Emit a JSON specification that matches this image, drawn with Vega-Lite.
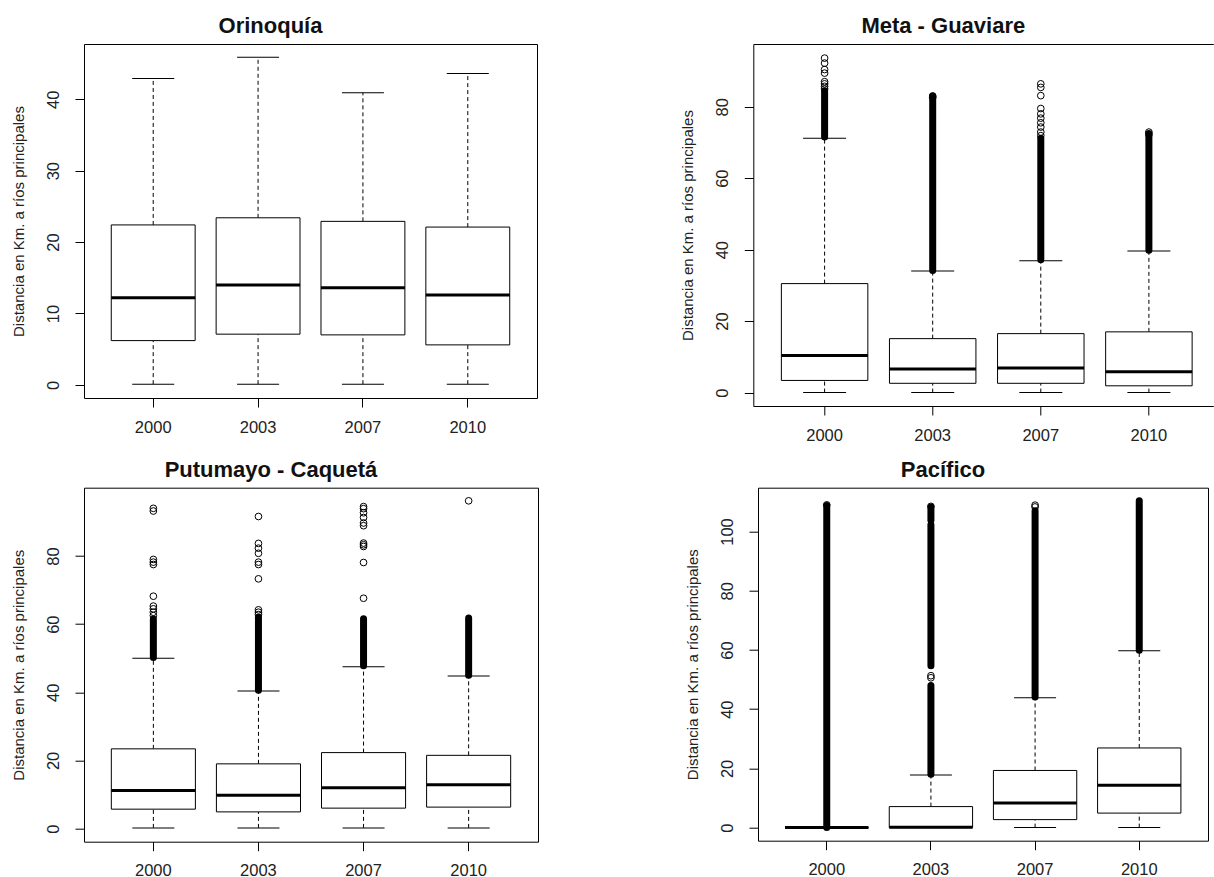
{
  "$schema": "https://vega.github.io/schema/vega-lite/v6.json",
  "padding": {"left": 11, "top": 14, "right": 0, "bottom": 0},
  "background": "white",
  "config": {
    "view": {"stroke": "black", "strokeWidth": 1},
    "tick": {"opacity": 1},
    "axis": {"domain": false, "grid": false, "tickColor": "black", "tickSize": 9, "tickWidth": 1,
      "labelFont": "Liberation Sans", "labelFontSize": 16.5, "labelColor": "#222",
      "titleFont": "Liberation Sans", "titleFontSize": 15, "titleFontWeight": "normal", "titleColor": "#222"},
    "axisX": {"labelAngle": 0, "labelPadding": 12},
    "axisY": {"labelAngle": -90, "labelAlign": "center", "labelBaseline": "alphabetic", "labelPadding": 17,
      "minExtent": 42, "maxExtent": 42, "titlePadding": 15.5},
    "title": {"font": "Liberation Sans", "fontSize": 22, "fontWeight": "bold", "color": "#111",
      "anchor": "middle", "dx": -40, "frame": "group", "baseline": "alphabetic", "offset": 6}
  },
  "datasets": {
    "boxes": [
      {"region": "Orinoquía", "year": "2000", "min": 0.1, "q1": 6.2, "median": 12.2, "q3": 22.4, "max": 42.9},
      {"region": "Orinoquía", "year": "2003", "min": 0.1, "q1": 7.1, "median": 14.0, "q3": 23.4, "max": 45.9},
      {"region": "Orinoquía", "year": "2007", "min": 0.1, "q1": 7.0, "median": 13.6, "q3": 22.9, "max": 40.9},
      {"region": "Orinoquía", "year": "2010", "min": 0.1, "q1": 5.6, "median": 12.6, "q3": 22.1, "max": 43.6},
      {"region": "Meta - Guaviare", "year": "2000", "min": 0, "q1": 3.4, "median": 10.4, "q3": 30.5, "max": 71.2},
      {"region": "Meta - Guaviare", "year": "2003", "min": 0, "q1": 2.6, "median": 6.6, "q3": 15.1, "max": 34.0},
      {"region": "Meta - Guaviare", "year": "2007", "min": 0, "q1": 2.6, "median": 6.9, "q3": 16.5, "max": 36.9},
      {"region": "Meta - Guaviare", "year": "2010", "min": 0, "q1": 1.9, "median": 5.8, "q3": 17.0, "max": 39.6},
      {"region": "Putumayo - Caquetá", "year": "2000", "min": 0.2, "q1": 5.7, "median": 11.2, "q3": 23.4, "max": 50.0},
      {"region": "Putumayo - Caquetá", "year": "2003", "min": 0.2, "q1": 4.9, "median": 9.8, "q3": 19.0, "max": 40.4},
      {"region": "Putumayo - Caquetá", "year": "2007", "min": 0.2, "q1": 6.0, "median": 12.0, "q3": 22.3, "max": 47.5},
      {"region": "Putumayo - Caquetá", "year": "2010", "min": 0.2, "q1": 6.3, "median": 12.9, "q3": 21.5, "max": 44.8},
      {"region": "Pacífico", "year": "2000", "min": 0, "q1": 0, "median": 0, "q3": 0, "max": 0},
      {"region": "Pacífico", "year": "2003", "min": 0, "q1": 0, "median": 0.1, "q3": 7.1, "max": 17.8},
      {"region": "Pacífico", "year": "2007", "min": 0, "q1": 2.7, "median": 8.3, "q3": 19.3, "max": 43.9},
      {"region": "Pacífico", "year": "2010", "min": 0, "q1": 4.9, "median": 14.3, "q3": 26.9, "max": 59.7}
    ],
    "bands": [
      {"region": "Meta - Guaviare", "year": "2000", "lo": 71.5, "hi": 84.5},
      {"region": "Meta - Guaviare", "year": "2003", "lo": 34.2, "hi": 83.0},
      {"region": "Meta - Guaviare", "year": "2007", "lo": 37.2, "hi": 71.2},
      {"region": "Meta - Guaviare", "year": "2010", "lo": 39.8, "hi": 72.5},
      {"region": "Putumayo - Caquetá", "year": "2000", "lo": 50.2, "hi": 61.5},
      {"region": "Putumayo - Caquetá", "year": "2003", "lo": 40.6, "hi": 62.0},
      {"region": "Putumayo - Caquetá", "year": "2007", "lo": 47.8, "hi": 61.6},
      {"region": "Putumayo - Caquetá", "year": "2010", "lo": 45.0, "hi": 61.8},
      {"region": "Pacífico", "year": "2000", "lo": 0, "hi": 108.8},
      {"region": "Pacífico", "year": "2003", "lo": 18.0, "hi": 48.0},
      {"region": "Pacífico", "year": "2003", "lo": 54.7, "hi": 102.3},
      {"region": "Pacífico", "year": "2003", "lo": 103.8, "hi": 108.3},
      {"region": "Pacífico", "year": "2007", "lo": 44.1, "hi": 107.0},
      {"region": "Pacífico", "year": "2010", "lo": 59.9, "hi": 110.4}
    ],
    "points": [
      {"region": "Meta - Guaviare", "year": "2000", "value": 85.0},
      {"region": "Meta - Guaviare", "year": "2000", "value": 85.7},
      {"region": "Meta - Guaviare", "year": "2000", "value": 86.4},
      {"region": "Meta - Guaviare", "year": "2000", "value": 87.0},
      {"region": "Meta - Guaviare", "year": "2000", "value": 89.4},
      {"region": "Meta - Guaviare", "year": "2000", "value": 90.4},
      {"region": "Meta - Guaviare", "year": "2000", "value": 92.2},
      {"region": "Meta - Guaviare", "year": "2000", "value": 93.6},
      {"region": "Meta - Guaviare", "year": "2003", "value": 82.6},
      {"region": "Meta - Guaviare", "year": "2003", "value": 83.0},
      {"region": "Meta - Guaviare", "year": "2007", "value": 71.9},
      {"region": "Meta - Guaviare", "year": "2007", "value": 72.9},
      {"region": "Meta - Guaviare", "year": "2007", "value": 74.3},
      {"region": "Meta - Guaviare", "year": "2007", "value": 75.5},
      {"region": "Meta - Guaviare", "year": "2007", "value": 76.8},
      {"region": "Meta - Guaviare", "year": "2007", "value": 78.0},
      {"region": "Meta - Guaviare", "year": "2007", "value": 79.5},
      {"region": "Meta - Guaviare", "year": "2007", "value": 83.1},
      {"region": "Meta - Guaviare", "year": "2007", "value": 85.4},
      {"region": "Meta - Guaviare", "year": "2007", "value": 86.4},
      {"region": "Meta - Guaviare", "year": "2010", "value": 72.2},
      {"region": "Meta - Guaviare", "year": "2010", "value": 72.9},
      {"region": "Putumayo - Caquetá", "year": "2000", "value": 62.5},
      {"region": "Putumayo - Caquetá", "year": "2000", "value": 63.5},
      {"region": "Putumayo - Caquetá", "year": "2000", "value": 64.5},
      {"region": "Putumayo - Caquetá", "year": "2000", "value": 65.3},
      {"region": "Putumayo - Caquetá", "year": "2000", "value": 68.2},
      {"region": "Putumayo - Caquetá", "year": "2000", "value": 77.5},
      {"region": "Putumayo - Caquetá", "year": "2000", "value": 78.2},
      {"region": "Putumayo - Caquetá", "year": "2000", "value": 79.0},
      {"region": "Putumayo - Caquetá", "year": "2000", "value": 93.2},
      {"region": "Putumayo - Caquetá", "year": "2000", "value": 94.0},
      {"region": "Putumayo - Caquetá", "year": "2003", "value": 62.8},
      {"region": "Putumayo - Caquetá", "year": "2003", "value": 63.5},
      {"region": "Putumayo - Caquetá", "year": "2003", "value": 64.2},
      {"region": "Putumayo - Caquetá", "year": "2003", "value": 73.3},
      {"region": "Putumayo - Caquetá", "year": "2003", "value": 77.5},
      {"region": "Putumayo - Caquetá", "year": "2003", "value": 78.2},
      {"region": "Putumayo - Caquetá", "year": "2003", "value": 80.8},
      {"region": "Putumayo - Caquetá", "year": "2003", "value": 82.3},
      {"region": "Putumayo - Caquetá", "year": "2003", "value": 83.7},
      {"region": "Putumayo - Caquetá", "year": "2003", "value": 91.6},
      {"region": "Putumayo - Caquetá", "year": "2007", "value": 67.6},
      {"region": "Putumayo - Caquetá", "year": "2007", "value": 78.1},
      {"region": "Putumayo - Caquetá", "year": "2007", "value": 82.8},
      {"region": "Putumayo - Caquetá", "year": "2007", "value": 83.3},
      {"region": "Putumayo - Caquetá", "year": "2007", "value": 83.8},
      {"region": "Putumayo - Caquetá", "year": "2007", "value": 88.9},
      {"region": "Putumayo - Caquetá", "year": "2007", "value": 89.7},
      {"region": "Putumayo - Caquetá", "year": "2007", "value": 91.3},
      {"region": "Putumayo - Caquetá", "year": "2007", "value": 92.7},
      {"region": "Putumayo - Caquetá", "year": "2007", "value": 93.9},
      {"region": "Putumayo - Caquetá", "year": "2007", "value": 94.5},
      {"region": "Putumayo - Caquetá", "year": "2010", "value": 96.2},
      {"region": "Pacífico", "year": "2000", "value": 109.0},
      {"region": "Pacífico", "year": "2003", "value": 50.6},
      {"region": "Pacífico", "year": "2003", "value": 51.3},
      {"region": "Pacífico", "year": "2003", "value": 108.5},
      {"region": "Pacífico", "year": "2007", "value": 108.3},
      {"region": "Pacífico", "year": "2007", "value": 108.9}
    ]
  },
  "spacing": 13.7,
  "vconcat": [
    {
      "bounds": "flush",
      "spacing": 216.3,
      "hconcat": [
        {
          "width": 453, "height": 354,
          "title": "Orinoquía",
          "layer": [
            {"data": {"name": "boxes"}, "transform": [{"filter": {"field": "region", "equal": "Orinoquía"}}],
             "mark": {"type": "rule", "strokeDash": [4, 3], "color": "black"},
             "encoding": {
               "x": {"field": "year", "type": "nominal", "title": null, "scale": {"domain": ["2000", "2003", "2007", "2010"], "paddingInner": 0.2, "paddingOuter": 0.26}},
               "y": {"field": "min", "type": "quantitative", "title": "Distancia en Km. a ríos principales", "scale": {"domain": [-1.84, 47.74], "nice": false, "zero": false}, "axis": {"values": [0, 10, 20, 30, 40]}},
               "y2": {"field": "q1"}}},
            {"data": {"name": "boxes"}, "transform": [{"filter": {"field": "region", "equal": "Orinoquía"}}],
             "mark": {"type": "rule", "strokeDash": [4, 3], "color": "black"},
             "encoding": {
               "x": {"field": "year", "type": "nominal", "title": null},
               "y": {"field": "q3", "type": "quantitative", "title": "Distancia en Km. a ríos principales"},
               "y2": {"field": "max"}}},
            {"data": {"name": "boxes"}, "transform": [{"filter": {"field": "region", "equal": "Orinoquía"}}],
             "mark": {"type": "tick", "size": 42, "thickness": 1, "color": "black"},
             "encoding": {
               "x": {"field": "year", "type": "nominal", "title": null},
               "y": {"field": "min", "type": "quantitative", "title": "Distancia en Km. a ríos principales"}}},
            {"data": {"name": "boxes"}, "transform": [{"filter": {"field": "region", "equal": "Orinoquía"}}],
             "mark": {"type": "tick", "size": 42, "thickness": 1, "color": "black"},
             "encoding": {
               "x": {"field": "year", "type": "nominal", "title": null},
               "y": {"field": "max", "type": "quantitative", "title": "Distancia en Km. a ríos principales"}}},
            {"data": {"name": "boxes"}, "transform": [{"filter": {"field": "region", "equal": "Orinoquía"}}],
             "mark": {"type": "bar", "fill": "white", "stroke": "black", "strokeWidth": 1},
             "encoding": {
               "x": {"field": "year", "type": "nominal", "title": null},
               "y": {"field": "q1", "type": "quantitative", "title": "Distancia en Km. a ríos principales"},
               "y2": {"field": "q3"}}},
            {"data": {"name": "boxes"}, "transform": [{"filter": {"field": "region", "equal": "Orinoquía"}}],
             "mark": {"type": "tick", "size": 84, "thickness": 3, "color": "black"},
             "encoding": {
               "x": {"field": "year", "type": "nominal", "title": null},
               "y": {"field": "median", "type": "quantitative", "title": "Distancia en Km. a ríos principales"}}}
          ]
        },
        {
          "width": 460, "height": 362,
          "title": "Meta - Guaviare",
          "view": {"stroke": null},
          "resolve": {"axis": {"x": "independent"}},
          "layer": [
            {"data": {"name": "boxes"}, "transform": [{"filter": {"field": "region", "equal": "Meta - Guaviare"}}],
             "mark": {"type": "rule", "strokeDash": [4, 3], "color": "black"},
             "encoding": {
               "x": {"field": "year", "type": "nominal", "title": null, "scale": {"domain": ["2000", "2003", "2007", "2010"], "paddingInner": 0.2, "paddingOuter": 0.2277, "align": 0.57}, "axis": {"domain": true, "domainColor": "black"}},
               "y": {"field": "min", "type": "quantitative", "title": "Distancia en Km. a ríos principales", "scale": {"domain": [-3.75, 97.55], "nice": false, "zero": false}, "axis": {"values": [0, 20, 40, 60, 80], "domain": true, "domainColor": "black"}},
               "y2": {"field": "q1"}}},
            {"data": {"name": "boxes"}, "transform": [{"filter": {"field": "region", "equal": "Meta - Guaviare"}}],
             "mark": {"type": "rule", "strokeDash": [4, 3], "color": "black"},
             "encoding": {
               "x": {"field": "year", "type": "nominal", "title": null, "axis": {"orient": "top", "labels": false, "ticks": false, "domain": true, "domainColor": "black"}},
               "y": {"field": "q3", "type": "quantitative", "title": "Distancia en Km. a ríos principales"},
               "y2": {"field": "max"}}},
            {"data": {"name": "boxes"}, "transform": [{"filter": {"field": "region", "equal": "Meta - Guaviare"}}],
             "mark": {"type": "tick", "size": 43, "thickness": 1, "color": "black"},
             "encoding": {
               "x": {"field": "year", "type": "nominal", "title": null, "axis": null},
               "y": {"field": "min", "type": "quantitative", "title": "Distancia en Km. a ríos principales"}}},
            {"data": {"name": "boxes"}, "transform": [{"filter": {"field": "region", "equal": "Meta - Guaviare"}}],
             "mark": {"type": "tick", "size": 43, "thickness": 1, "color": "black"},
             "encoding": {
               "x": {"field": "year", "type": "nominal", "title": null, "axis": null},
               "y": {"field": "max", "type": "quantitative", "title": "Distancia en Km. a ríos principales"}}},
            {"data": {"name": "bands"}, "transform": [{"filter": {"field": "region", "equal": "Meta - Guaviare"}}],
             "mark": {"type": "rule", "strokeWidth": 7, "strokeCap": "round", "color": "black"},
             "encoding": {
               "x": {"field": "year", "type": "nominal", "title": null, "axis": null},
               "y": {"field": "lo", "type": "quantitative", "title": "Distancia en Km. a ríos principales"},
               "y2": {"field": "hi"}}},
            {"data": {"name": "points"}, "transform": [{"filter": {"field": "region", "equal": "Meta - Guaviare"}}],
             "mark": {"type": "point", "shape": "circle", "size": 45, "filled": false, "color": "black", "strokeWidth": 1, "opacity": 1},
             "encoding": {
               "x": {"field": "year", "type": "nominal", "title": null, "axis": null},
               "y": {"field": "value", "type": "quantitative", "title": "Distancia en Km. a ríos principales"}}},
            {"data": {"name": "boxes"}, "transform": [{"filter": {"field": "region", "equal": "Meta - Guaviare"}}],
             "mark": {"type": "bar", "fill": "white", "stroke": "black", "strokeWidth": 1},
             "encoding": {
               "x": {"field": "year", "type": "nominal", "title": null, "axis": null},
               "y": {"field": "q1", "type": "quantitative", "title": "Distancia en Km. a ríos principales"},
               "y2": {"field": "q3"}}},
            {"data": {"name": "boxes"}, "transform": [{"filter": {"field": "region", "equal": "Meta - Guaviare"}}],
             "mark": {"type": "tick", "size": 86.5, "thickness": 3, "color": "black"},
             "encoding": {
               "x": {"field": "year", "type": "nominal", "title": null, "axis": null},
               "y": {"field": "median", "type": "quantitative", "title": "Distancia en Km. a ríos principales"}}}
          ]
        }
      ]
    },
    {
      "bounds": "flush",
      "spacing": 220,
      "hconcat": [
        {
          "width": 454, "height": 354,
          "title": "Putumayo - Caquetá",
          "layer": [
            {"data": {"name": "boxes"}, "transform": [{"filter": {"field": "region", "equal": "Putumayo - Caquetá"}}],
             "mark": {"type": "rule", "strokeDash": [4, 3], "color": "black"},
             "encoding": {
               "x": {"field": "year", "type": "nominal", "title": null, "scale": {"domain": ["2000", "2003", "2007", "2010"], "paddingInner": 0.2, "paddingOuter": 0.26}},
               "y": {"field": "min", "type": "quantitative", "title": "Distancia en Km. a ríos principales", "scale": {"domain": [-3.85, 100.05], "nice": false, "zero": false}, "axis": {"values": [0, 20, 40, 60, 80]}},
               "y2": {"field": "q1"}}},
            {"data": {"name": "boxes"}, "transform": [{"filter": {"field": "region", "equal": "Putumayo - Caquetá"}}],
             "mark": {"type": "rule", "strokeDash": [4, 3], "color": "black"},
             "encoding": {
               "x": {"field": "year", "type": "nominal", "title": null},
               "y": {"field": "q3", "type": "quantitative", "title": "Distancia en Km. a ríos principales"},
               "y2": {"field": "max"}}},
            {"data": {"name": "boxes"}, "transform": [{"filter": {"field": "region", "equal": "Putumayo - Caquetá"}}],
             "mark": {"type": "tick", "size": 42, "thickness": 1, "color": "black"},
             "encoding": {
               "x": {"field": "year", "type": "nominal", "title": null},
               "y": {"field": "min", "type": "quantitative", "title": "Distancia en Km. a ríos principales"}}},
            {"data": {"name": "boxes"}, "transform": [{"filter": {"field": "region", "equal": "Putumayo - Caquetá"}}],
             "mark": {"type": "tick", "size": 42, "thickness": 1, "color": "black"},
             "encoding": {
               "x": {"field": "year", "type": "nominal", "title": null},
               "y": {"field": "max", "type": "quantitative", "title": "Distancia en Km. a ríos principales"}}},
            {"data": {"name": "bands"}, "transform": [{"filter": {"field": "region", "equal": "Putumayo - Caquetá"}}],
             "mark": {"type": "rule", "strokeWidth": 7, "strokeCap": "round", "color": "black"},
             "encoding": {
               "x": {"field": "year", "type": "nominal", "title": null},
               "y": {"field": "lo", "type": "quantitative", "title": "Distancia en Km. a ríos principales"},
               "y2": {"field": "hi"}}},
            {"data": {"name": "points"}, "transform": [{"filter": {"field": "region", "equal": "Putumayo - Caquetá"}}],
             "mark": {"type": "point", "shape": "circle", "size": 45, "filled": false, "color": "black", "strokeWidth": 1, "opacity": 1},
             "encoding": {
               "x": {"field": "year", "type": "nominal", "title": null},
               "y": {"field": "value", "type": "quantitative", "title": "Distancia en Km. a ríos principales"}}},
            {"data": {"name": "boxes"}, "transform": [{"filter": {"field": "region", "equal": "Putumayo - Caquetá"}}],
             "mark": {"type": "bar", "fill": "white", "stroke": "black", "strokeWidth": 1},
             "encoding": {
               "x": {"field": "year", "type": "nominal", "title": null},
               "y": {"field": "q1", "type": "quantitative", "title": "Distancia en Km. a ríos principales"},
               "y2": {"field": "q3"}}},
            {"data": {"name": "boxes"}, "transform": [{"filter": {"field": "region", "equal": "Putumayo - Caquetá"}}],
             "mark": {"type": "tick", "size": 84, "thickness": 3, "color": "black"},
             "encoding": {
               "x": {"field": "year", "type": "nominal", "title": null},
               "y": {"field": "median", "type": "quantitative", "title": "Distancia en Km. a ríos principales"}}}
          ]
        },
        {
          "width": 450, "height": 353,
          "title": "Pacífico",
          "layer": [
            {"data": {"name": "boxes"}, "transform": [{"filter": {"field": "region", "equal": "Pacífico"}}],
             "mark": {"type": "rule", "strokeDash": [4, 3], "color": "black"},
             "encoding": {
               "x": {"field": "year", "type": "nominal", "title": null, "scale": {"domain": ["2000", "2003", "2007", "2010"], "paddingInner": 0.2, "paddingOuter": 0.26}},
               "y": {"field": "min", "type": "quantitative", "title": "Distancia en Km. a ríos principales", "scale": {"domain": [-4.42, 114.8], "nice": false, "zero": false}, "axis": {"values": [0, 20, 40, 60, 80, 100]}},
               "y2": {"field": "q1"}}},
            {"data": {"name": "boxes"}, "transform": [{"filter": {"field": "region", "equal": "Pacífico"}}],
             "mark": {"type": "rule", "strokeDash": [4, 3], "color": "black"},
             "encoding": {
               "x": {"field": "year", "type": "nominal", "title": null},
               "y": {"field": "q3", "type": "quantitative", "title": "Distancia en Km. a ríos principales"},
               "y2": {"field": "max"}}},
            {"data": {"name": "boxes"}, "transform": [{"filter": {"field": "region", "equal": "Pacífico"}}],
             "mark": {"type": "tick", "size": 42, "thickness": 1, "color": "black"},
             "encoding": {
               "x": {"field": "year", "type": "nominal", "title": null},
               "y": {"field": "min", "type": "quantitative", "title": "Distancia en Km. a ríos principales"}}},
            {"data": {"name": "boxes"}, "transform": [{"filter": {"field": "region", "equal": "Pacífico"}}],
             "mark": {"type": "tick", "size": 42, "thickness": 1, "color": "black"},
             "encoding": {
               "x": {"field": "year", "type": "nominal", "title": null},
               "y": {"field": "max", "type": "quantitative", "title": "Distancia en Km. a ríos principales"}}},
            {"data": {"name": "bands"}, "transform": [{"filter": {"field": "region", "equal": "Pacífico"}}],
             "mark": {"type": "rule", "strokeWidth": 7, "strokeCap": "round", "color": "black"},
             "encoding": {
               "x": {"field": "year", "type": "nominal", "title": null},
               "y": {"field": "lo", "type": "quantitative", "title": "Distancia en Km. a ríos principales"},
               "y2": {"field": "hi"}}},
            {"data": {"name": "points"}, "transform": [{"filter": {"field": "region", "equal": "Pacífico"}}],
             "mark": {"type": "point", "shape": "circle", "size": 45, "filled": false, "color": "black", "strokeWidth": 1, "opacity": 1},
             "encoding": {
               "x": {"field": "year", "type": "nominal", "title": null},
               "y": {"field": "value", "type": "quantitative", "title": "Distancia en Km. a ríos principales"}}},
            {"data": {"name": "boxes"}, "transform": [{"filter": {"field": "region", "equal": "Pacífico"}}],
             "mark": {"type": "bar", "fill": "white", "stroke": "black", "strokeWidth": 1},
             "encoding": {
               "x": {"field": "year", "type": "nominal", "title": null},
               "y": {"field": "q1", "type": "quantitative", "title": "Distancia en Km. a ríos principales"},
               "y2": {"field": "q3"}}},
            {"data": {"name": "boxes"}, "transform": [{"filter": {"field": "region", "equal": "Pacífico"}}],
             "mark": {"type": "tick", "size": 83.4, "thickness": 3, "color": "black"},
             "encoding": {
               "x": {"field": "year", "type": "nominal", "title": null},
               "y": {"field": "median", "type": "quantitative", "title": "Distancia en Km. a ríos principales"}}}
          ]
        }
      ]
    }
  ]
}
